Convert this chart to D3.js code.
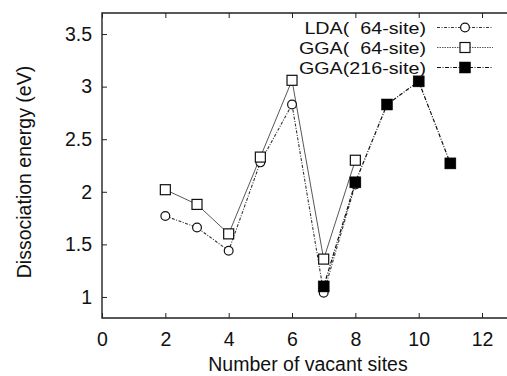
<!DOCTYPE html>
<html>
<head>
<meta charset="utf-8">
<script src="https://cdn.jsdelivr.net/npm/d3@7/dist/d3.min.js"></script>
<style>
  html, body { margin: 0; padding: 0; background: #fff; }
  svg { display: block; }
  text { font-family: "Liberation Sans", Arial, Helvetica, sans-serif; fill: #111; }
</style>
</head>
<body>
<script>
// ---- data ----
const ldaX = [2, 3, 4, 5, 6, 7, 8];
const ldaY = [1.77, 1.66, 1.44, 2.28, 2.83, 1.04, 2.07];
const gga64X = [2, 3, 4, 5, 6, 7, 8];
const gga64Y = [2.02, 1.88, 1.60, 2.33, 3.06, 1.36, 2.30];
const gga216X = [7, 8, 9, 10, 11];
const gga216Y = [1.10, 2.09, 2.83, 3.05, 2.27];
const xTicks = [0, 2, 4, 6, 8, 10, 12];
const yTicks = [1, 1.5, 2, 2.5, 3, 3.5];
const seriesNames = ["LDA(  64-site)", "GGA(  64-site)", "GGA(216-site)"];
const xTitle = "Number of vacant sites";
const yTitle = "Dissociation energy (eV)";

const W = 507, H = 376;
const svg = d3.select("body").append("svg").attr("width", W).attr("height", H);

const x = d3.scaleLinear().domain([0, 13]).range([102, 513.7]);
const y = d3.scaleLinear().domain([0.8, 3.7]).range([318, 13]);

const frameColor = "#222";
const fs = "19.5px";

// frame
svg.append("path")
  .attr("d", `M${x(13)},${y(3.7)}H${x(0)}V${y(0.8)}H${x(13)}`)
  .attr("fill", "none").attr("stroke", frameColor).attr("stroke-width", 1.4);

// bottom axis: inward ticks
const xAxisB = d3.axisBottom(x).tickValues(xTicks).tickSize(-5).tickPadding(14)
  .tickFormat(d3.format("d"));
const gxb = svg.append("g").attr("transform", `translate(0,${y(0.8)})`).call(xAxisB);
gxb.select(".domain").remove();
gxb.selectAll("line").attr("stroke", frameColor);
gxb.selectAll("text").style("font-size", fs).attr("fill", "#111");

// top axis ticks (mirror)
const xAxisT = d3.axisTop(x).tickValues(xTicks).tickSize(-5).tickFormat("");
const gxt = svg.append("g").attr("transform", `translate(0,${y(3.7)})`).call(xAxisT);
gxt.select(".domain").remove();
gxt.selectAll("line").attr("stroke", frameColor);

// left axis
const yAxisL = d3.axisLeft(y).tickValues(yTicks).tickSize(-5).tickPadding(10)
  .tickFormat(d => String(d));
const gyl = svg.append("g").attr("transform", `translate(${x(0)},0)`).call(yAxisL);
gyl.select(".domain").remove();
gyl.selectAll("line").attr("stroke", frameColor);
gyl.selectAll("text").style("font-size", fs).attr("fill", "#111");

// axis titles
svg.append("text").attr("x", 308).attr("y", 371).attr("text-anchor", "middle")
  .style("font-size", fs).text(xTitle);
svg.append("text").attr("transform", `translate(31,${172}) rotate(-90)`)
  .attr("text-anchor", "middle").style("font-size", fs).text(yTitle);

// series
const series = [
  { name: seriesNames[0], xs: ldaX, ys: ldaY, dash: "3,1.5,1,1.5", color: "#333", width: 1.1, marker: "circle" },
  { name: seriesNames[1], xs: gga64X, ys: gga64Y, dash: null, color: "#444", width: 0.9, marker: "square" },
  { name: seriesNames[2], xs: gga216X, ys: gga216Y, dash: "4,1.5,1,1.5", color: "#111", width: 1.2, marker: "filled" },
];

const line = d3.line().x(d => x(d[0])).y(d => y(d[1]));

function drawMarker(g, type, cx, cy) {
  if (type === "circle") {
    g.append("circle").attr("cx", cx).attr("cy", cy).attr("r", 4.4)
      .attr("fill", "#fff").attr("stroke", "#111").attr("stroke-width", 1.2);
  } else if (type === "square") {
    g.append("rect").attr("x", cx - 5).attr("y", cy - 5).attr("width", 10).attr("height", 10)
      .attr("fill", "#fff").attr("stroke", "#111").attr("stroke-width", 1.2);
  } else {
    g.append("rect").attr("x", cx - 5.5).attr("y", cy - 5.5).attr("width", 11).attr("height", 11)
      .attr("fill", "#000").attr("stroke", "#000").attr("stroke-width", 0.5);
  }
}

series.forEach(s => {
  const pts = s.xs.map((v, i) => [v, s.ys[i]]);
  svg.append("path").datum(pts).attr("d", line)
    .attr("fill", "none").attr("stroke", s.color).attr("stroke-width", s.width)
    .attr("stroke-dasharray", s.dash);
});
series.forEach(s => {
  const g = svg.append("g");
  s.xs.forEach((v, i) => drawMarker(g, s.marker, x(v), y(s.ys[i])));
});

// legend
const legRowY = [27.5, 47.5, 67.5];
series.forEach((s, i) => {
  const ly = legRowY[i];
  svg.append("text").attr("transform", `translate(426,${ly + 6}) scale(1.16,1)`)
    .attr("text-anchor", "end")
    .style("font-size", "17px").style("white-space", "pre").attr("xml:space", "preserve").text(s.name);
  svg.append("line").attr("x1", 437).attr("x2", 493).attr("y1", ly).attr("y2", ly)
    .attr("stroke", s.color).attr("stroke-width", s.width).attr("stroke-dasharray", s.dash || "1.5,1");
  drawMarker(svg, s.marker, 465, ly);
});
</script>
</body>
</html>
